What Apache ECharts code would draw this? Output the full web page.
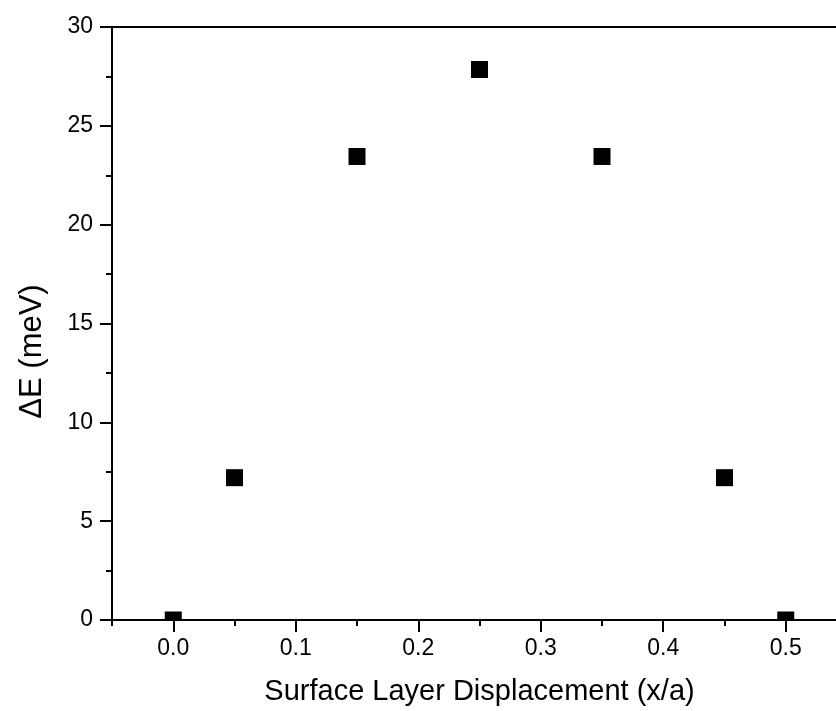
<!DOCTYPE html>
<html>
<head>
<meta charset="utf-8">
<script src="https://cdn.jsdelivr.net/npm/echarts@6/dist/echarts.min.js"></script>
<style>
  html, body { margin: 0; padding: 0; background: #fff; }
  #chart { width: 836px; height: 711px; }
</style>
</head>
<body>
<div id="chart"></div>
<script>
// Energy change vs. surface layer displacement
const displacement = [0.0, 0.05, 0.15, 0.25, 0.35, 0.45, 0.5];
const deltaE = [0.0, 7.2, 23.45, 27.85, 23.45, 7.2, 0.0];

const xMajorTicks = [0.0, 0.1, 0.2, 0.3, 0.4, 0.5];
const xMinorTicks = [-0.05, 0.05, 0.15, 0.25, 0.35, 0.45, 0.55];

const FONT = "'Liberation Sans', Arial, sans-serif";

const chart = echarts.init(document.getElementById('chart'), null, { renderer: 'canvas' });

const axisLineStyle = { color: '#000', width: 2 };

chart.setOption({
  backgroundColor: '#fff',
  animation: false,
  grid: {
    left: 112, top: 27, right: -11, bottom: 91,
    containLabel: false, outerBoundsMode: 'none',
    show: true, borderColor: '#000', borderWidth: 2, backgroundColor: 'transparent'
  },
  xAxis: [
    {
      type: 'value', min: -0.05, max: 0.55,
      name: 'Surface Layer Displacement (x/a)',
      nameLocation: 'middle', nameGap: 57,
      nameTextStyle: { fontFamily: FONT, fontSize: 29, color: '#000' },
      axisLine: { show: true, onZero: false, lineStyle: axisLineStyle },
      axisTick: { show: true, length: 12, lineStyle: axisLineStyle, customValues: xMajorTicks },
      axisLabel: {
        show: true, margin: 17, fontFamily: FONT, fontSize: 23, color: '#000',
        customValues: xMajorTicks,
        formatter: v => v.toFixed(1)
      },
      splitLine: { show: false }
    },
    {
      type: 'value', min: -0.05, max: 0.55, position: 'bottom',
      axisLine: { show: false, onZero: false },
      axisTick: { show: true, length: 6, lineStyle: axisLineStyle, customValues: xMinorTicks },
      axisLabel: { show: false },
      splitLine: { show: false }
    }
  ],
  yAxis: {
    type: 'value', min: 0, max: 30, interval: 5,
    name: 'ΔE (meV)',
    nameLocation: 'middle', nameGap: 64,
    nameTextStyle: { fontFamily: FONT, fontSize: 31, color: '#000', padding: [0, 56, 0, 0] },
    axisLine: { show: true, onZero: false, lineStyle: axisLineStyle },
    axisTick: { show: true, length: 12, lineStyle: axisLineStyle },
    minorTick: { show: true, splitNumber: 2, length: 6, lineStyle: axisLineStyle },
    axisLabel: { show: true, margin: 19, fontFamily: FONT, fontSize: 23, color: '#000' },
    splitLine: { show: false }
  },
  series: [{
    type: 'custom',
    xAxisIndex: 0,
    data: displacement.map((x, i) => [x, deltaE[i]]),
    renderItem: function (params, api) {
      const p = api.coord([api.value(0), api.value(1)]);
      const s = 17;
      const shape = echarts.graphic.clipRectByRect(
        { x: p[0] - s / 2, y: p[1] - s / 2, width: s, height: s },
        { x: params.coordSys.x, y: params.coordSys.y, width: params.coordSys.width, height: params.coordSys.height }
      );
      return shape && { type: 'rect', shape: shape, style: { fill: '#000' } };
    },
    z: 1
  }]
});
</script>
</body>
</html>
